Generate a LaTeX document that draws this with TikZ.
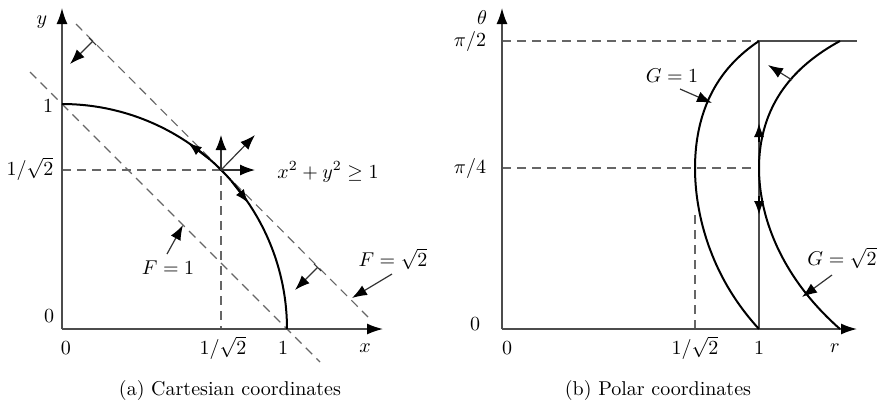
\documentclass[tikz,border=0pt]{standalone}
\usetikzlibrary{arrows.meta}
\begin{document}
\begin{tikzpicture}[x=0.5pt,y=-0.5pt,
 axis/.style={draw=black!70, line width=0.75pt, -{Latex[length=8pt,width=5.5pt,color=black]}},
 axisline/.style={draw=black!70, line width=0.75pt},
 curve/.style={draw=black, line width=1pt},
 guide/.style={draw=black!60, line width=0.55pt, dash pattern=on 4.5pt off 3pt},
 ptr/.style={draw=black!80, line width=0.6pt, -{Latex[length=7.5pt,width=5.5pt,color=black]}},
 barptr/.style={draw=black!80, line width=0.6pt, {Bar[width=5pt]}-{Latex[length=7.5pt,width=5.5pt,color=black]}},
 headonly/.style={draw=black, line width=1pt, -{Latex[length=7pt,width=5pt]}},
 lab/.style={inner sep=1pt},
]
\useasboundingbox (0,0) rectangle (880,404);

% ---------------- (a) Cartesian ----------------
\coordinate (O1) at (62,329);
\coordinate (Ytop) at (62,8);
\coordinate (Xend) at (383,329);
\coordinate (F1a) at (30,72);
\coordinate (F1b) at (320,362);
\coordinate (F2a) at (76,24);
\coordinate (F2b) at (368,317);
\coordinate (P) at (221,170);
\coordinate (Yh) at (62,170);
\coordinate (Xv) at (221,329);

\draw[guide] (F1a) -- (F1b);
\draw[guide] (F2a) -- (F2b);
\draw[guide] (Yh) -- (P) -- (Xv);
\draw[axis] (O1) -- (Ytop);
\draw[axis] (O1) -- (Xend);

\draw[curve] plot[domain=0:90,samples=90] ({62+225*cos(\x)},{329-225*sin(\x)});

% arrows along the circle
\coordinate (CaT) at (209.6,159.2);
\coordinate (CaH) at (187.8,142.5);
\coordinate (CbT) at (231.8,181.4);
\coordinate (CbH) at (248.5,203.2);
\draw[headonly] (CaT) -- (CaH);
\draw[headonly] (CbT) -- (CbH);

% gradient arrows at P
\coordinate (Pu) at (221,135);
\coordinate (Pr) at (255,170);
\coordinate (Pd) at (255,135);
\draw[ptr] (P) -- (Pu);
\draw[ptr] (P) -- (Pr);
\draw[ptr] (P) -- (Pd);

% normal arrows from F = sqrt2 line
\coordinate (NaT) at (93,41);
\coordinate (NaH) at (70,64);
\coordinate (NbT) at (318,267);
\coordinate (NbH) at (295,290);
\draw[barptr] (NaT) -- (NaH);
\draw[barptr] (NbT) -- (NbH);

% labels
\node[lab] (ylab) at (42,22) {$y$};
\node[lab] (yone) at (48,106) {$1$};
\node[lab] (yrt) at (30,169) {$1/\sqrt{2}$};
\node[lab] (yzero) at (49,316) {$0$};
\node[lab] (xzero) at (66,348) {$0$};
\node[lab] (xrt) at (223,348) {$1/\sqrt{2}$};
\node[lab] (xone) at (283,348) {$1$};
\node[lab] (xlab) at (365,348) {$x$};
\node[lab] (ineq) at (328,172) {$x^2+y^2\geq 1$};
\node[lab] (F1) at (168,268) {$F=1$};
\node[lab] (F2) at (393,259) {$F=\sqrt{2}$};
\coordinate (F1s) at (167,254);
\coordinate (F1e) at (183,225);
\coordinate (F2s) at (392,274);
\coordinate (F2e) at (352,298);
\draw[ptr] (F1s) -- (F1e);
\draw[ptr] (F2s) -- (F2e);
\node[lab] (capa) at (230,390) {(a) Cartesian coordinates};

% ---------------- (b) Polar ----------------
\coordinate (O2) at (502,329);
\coordinate (Ttop) at (502,8);
\coordinate (Rend) at (857,329);
\coordinate (Th2) at (502,41);
\coordinate (C1) at (759,41);
\coordinate (Tend) at (857,41);
\coordinate (R1) at (759,329);
\coordinate (Th4) at (502,168);
\coordinate (Th4e) at (753,168);
\coordinate (Rrt) at (695,329);
\coordinate (Rrte) at (695,212);

\draw[guide] (Th2) -- (C1);
\draw[guide] (Th4) -- (Th4e);
\draw[guide] (Rrt) -- (Rrte);
\draw[axisline] (C1) -- (Tend);
\draw[axisline] (C1) -- (R1);
\draw[axis] (O2) -- (Ttop);
\draw[axis] (O2) -- (Rend);

% G = 1 and G = sqrt2 curves
\draw[curve] plot[domain=0:90,samples=90]
  ({517.6+273.8*(1/(cos(\x)+sin(\x)))-32.4*(1/(cos(\x)+sin(\x)))^2},
   {329-356*(\x/90)+68*(\x/90)^2});
\draw[curve] plot[domain=0:90,samples=90]
  ({517.6+273.8*(1.41421/(cos(\x)+sin(\x)))-32.4*(1.41421/(cos(\x)+sin(\x)))^2},
   {329-356*(\x/90)+68*(\x/90)^2});

% arrows on r = 1
\coordinate (UpT) at (759,142);
\coordinate (UpH) at (759,123);
\coordinate (DnT) at (759,196);
\coordinate (DnH) at (759,215);
\draw[headonly] (UpT) -- (UpH);
\draw[headonly] (DnT) -- (DnH);

% arrow from G = sqrt2 toward r = 1
\coordinate (GnT) at (792,80);
\coordinate (GnH) at (768,65);
\draw[ptr] (GnT) -- (GnH);

% labels
\node[lab] (thlab) at (482,18) {$\theta$};
\node[lab] (pi2) at (470,41) {$\pi/2$};
\node[lab] (pi4) at (470,168) {$\pi/4$};
\node[lab] (tzero) at (475,324) {$0$};
\node[lab] (rzero) at (507,348) {$0$};
\node[lab] (rrt) at (695,348) {$1/\sqrt{2}$};
\node[lab] (rone) at (759,348) {$1$};
\node[lab] (rlab) at (835,348) {$r$};
\node[lab] (G1) at (672,76) {$G=1$};
\node[lab] (G2) at (842,258) {$G=\sqrt{2}$};
\coordinate (G1s) at (680,89);
\coordinate (G1e) at (712,103);
\coordinate (G2s) at (832,275);
\coordinate (G2e) at (802,297);
\draw[ptr] (G1s) -- (G1e);
\draw[ptr] (G2s) -- (G2e);
\node[lab] (capb) at (658,390) {(b) Polar coordinates};
\end{tikzpicture}
\end{document}
